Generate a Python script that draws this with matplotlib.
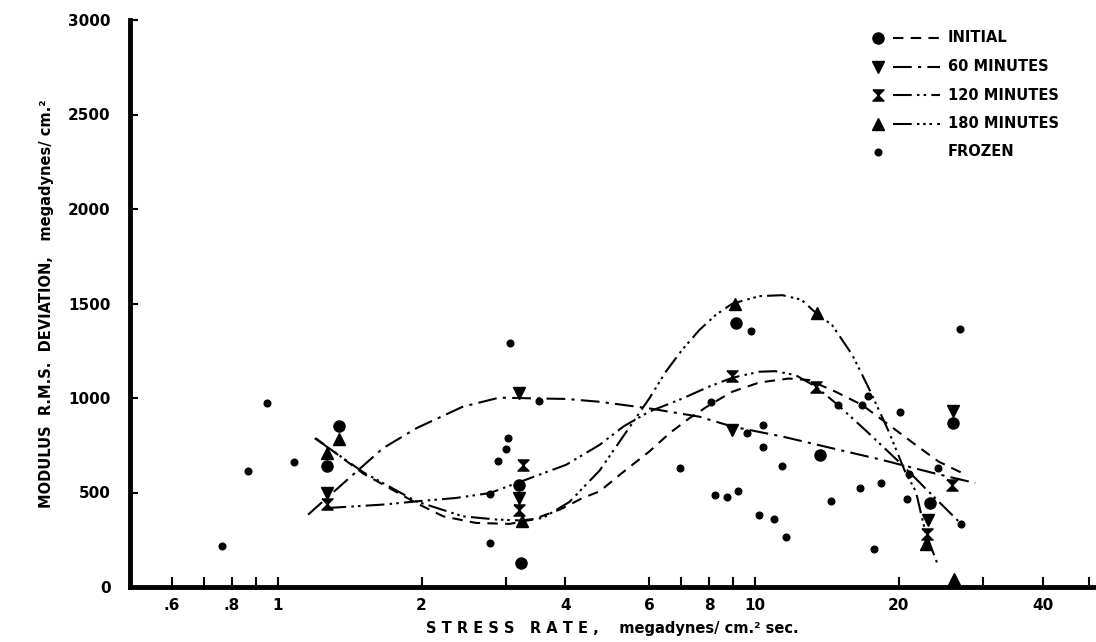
import numpy as np
import matplotlib
matplotlib.use("Agg")
import matplotlib.pyplot as plt
from matplotlib.ticker import FixedLocator, NullFormatter

# ── data ──
frozen_x = [0.763, 0.867, 0.95, 1.08, 2.78, 2.78, 2.89, 3.0, 3.03, 3.06, 3.53,
            6.95, 8.08, 8.25, 8.71, 9.2, 9.62, 9.8, 10.2, 10.4, 10.4, 10.95, 11.4, 11.6,
            14.4, 14.9, 16.6, 16.75, 17.2, 17.7, 18.3, 20.1, 20.8, 21.0, 24.2, 26.9, 27.0]
frozen_y = [216, 615, 975, 660, 234, 490, 668, 729, 787, 1293, 984,
            629, 977, 489, 474, 510, 813, 1355, 383, 857, 740, 362, 641, 264,
            457, 963, 523, 963, 1012, 202, 550, 928, 466, 600, 629, 1364, 334]

init_x = [1.34, 1.27, 3.2, 3.23, 9.1, 13.7, 23.2, 26.0]
init_y = [850, 640, 541, 128, 1399, 700, 445, 866]
m60_x = [1.27, 3.2, 3.2, 8.95, 23.0, 26.0]
m60_y = [500, 1024, 470, 831, 355, 930]
m120_x = [1.27, 3.27, 3.2, 8.93, 13.4, 22.9, 25.8]
m120_y = [440, 645, 410, 1115, 1060, 280, 540]
m180_x = [1.34, 1.27, 3.25, 9.05, 13.5, 22.8, 26.1]
m180_y = [785, 710, 350, 1499, 1450, 225, 40]

# fitted curves as drawn
c_init_x = [1.2, 1.51, 1.95, 2.22, 2.6, 3.06, 3.42, 3.9, 4.35, 4.72, 5.3, 6.0, 6.61, 7.28, 8.02,
            8.95, 10.2, 11.76, 12.96, 14.74, 16.75, 19.05, 21.68, 24.2, 27.6]
c_init_y = [787, 600, 444, 374, 339, 334, 357, 410, 471, 506, 610, 717, 813, 893, 963,
            1033, 1082, 1103, 1095, 1033, 963, 858, 752, 664, 594]
c60_x = [1.157, 1.41, 1.66, 1.95, 2.44, 2.91, 3.42, 4.02, 4.72, 6.0, 7.64, 8.95,
         11.4, 14.5, 18.4, 23.6, 28.9]
c60_y = [383, 576, 734, 840, 954, 1002, 998, 995, 980, 945, 901, 849,
         796, 734, 673, 603, 550]
c120_x = [1.27, 1.66, 1.95, 2.36, 2.78, 3.31, 4.02, 4.72, 5.3, 6.0, 7.05, 8.0, 8.95, 10.2,
          11.0, 12.15, 13.4, 14.9, 17.3, 20.3, 22.7, 27.1]
c120_y = [418, 436, 453, 471, 497, 568, 647, 752, 850, 928, 998, 1060, 1107, 1139,
          1142, 1121, 1060, 963, 813, 647, 523, 330]
c180_x = [1.195, 1.51, 1.95, 2.44, 2.87, 3.23, 3.59, 4.08, 4.72, 5.3, 6.0, 6.5, 7.03, 7.64,
          8.27, 8.95, 10.2, 11.4, 12.5, 13.4, 14.5, 15.98, 17.3, 19.05, 20.6, 21.7, 22.7, 24.1]
c180_y = [787, 607, 453, 374, 357, 352, 365, 450, 616, 800, 998, 1140, 1255, 1360,
          1440, 1499, 1539, 1544, 1520, 1450, 1385, 1227, 1051, 822, 611, 506, 295, 120]

x_ticks = [0.6, 0.8, 1, 2, 4, 6, 8, 10, 20, 40]
x_labels = [".6", ".8", "1", "2", "4", "6", "8", "10", "20", "40"]
x_minor = [0.7, 0.9, 3, 7, 9, 30, 50]
y_ticks = [0, 500, 1000, 1500, 2000, 2500, 3000]

legend_labels = ["INITIAL", "60 MINUTES", "120 MINUTES", "180 MINUTES", "FROZEN"]

# ── styles ──
K = "black"
hourglass = [(-1, 1), (1, 1), (-1, -1), (1, -1), (-1, 1)]
ls_init = (0, (5, 3.5))
ls_60 = (0, (9, 3, 1.5, 3))
ls_120 = (0, (9, 2.5, 1.2, 2, 1.2, 2.5))
ls_180 = (0, (9, 2.5, 1.2, 1.8, 1.2, 1.8, 1.2, 2.5))

plt.rcParams["font.family"] = ["DejaVu Sans"]
plt.rcParams["font.weight"] = "bold"
plt.rcParams["axes.labelweight"] = "bold"

fig = plt.figure(figsize=(10.96, 6.42), dpi=100)
ax = fig.add_axes([130 / 1096, 1 - 587 / 642, 965 / 1096, 567 / 642])

lw = 1.5
ax.plot(c_init_x, c_init_y, color=K, lw=lw, ls=ls_init)
ax.plot(c60_x, c60_y, color=K, lw=lw, ls=ls_60)
ax.plot(c120_x, c120_y, color=K, lw=lw, ls=ls_120)
ax.plot(c180_x, c180_y, color=K, lw=lw, ls=ls_180)

ax.plot(frozen_x, frozen_y, "o", color=K, ms=4.8, ls="none")
ax.plot(init_x, init_y, "o", color=K, ms=8, ls="none")
ax.plot(m60_x, m60_y, "v", color=K, ms=8, ls="none")
ax.plot(m120_x, m120_y, marker=hourglass, color=K, ms=8, ls="none")
ax.plot(m180_x, m180_y, "^", color=K, ms=8, ls="none")

ax.set_xscale("log")
ax.set_xlim(0.49, 51.5)
ax.set_ylim(0, 3000)
ax.xaxis.set_major_locator(FixedLocator(x_ticks))
ax.set_xticklabels(x_labels)
ax.xaxis.set_minor_locator(FixedLocator(x_minor))
ax.xaxis.set_minor_formatter(NullFormatter())
ax.set_yticks(y_ticks)

for s in ["top", "right"]:
    ax.spines[s].set_visible(False)
for s in ["left", "bottom"]:
    ax.spines[s].set_linewidth(3.5)
ax.tick_params(axis="both", which="both", direction="in", width=1.5, labelsize=11)
ax.tick_params(axis="x", which="major", length=7, pad=8)
ax.tick_params(axis="x", which="minor", length=7)
ax.tick_params(axis="y", length=6, pad=14)

ax.set_xlabel("S T R E S S   R A T E ,    megadynes/ cm.² sec.", fontsize=10.5, labelpad=6)
ax.set_ylabel("MODULUS  R.M.S.  DEVIATION,   megadynes/ cm.²", fontsize=10.5, labelpad=10)

# ── legend, drawn by hand ──
tr = fig.transFigure
rows = [38, 66.5, 95, 123.5, 152]
mk = ["o", "v", hourglass, "^", "o"]
styles = [ls_init, ls_60, ls_120, ls_180, None]
for r, m, st, lab in zip(rows, mk, styles, legend_labels):
    yy = 1 - r / 642
    ms = 4.8 if lab == "FROZEN" else 8
    fig.lines.append(plt.Line2D([878 / 1096], [yy], marker=m, ms=ms, color=K, ls="none", transform=tr))
    if st is not None:
        fig.lines.append(plt.Line2D([893 / 1096, 940 / 1096], [yy, yy], color=K, lw=1.5, ls=st, transform=tr))
    fig.text(948 / 1096, yy, lab, fontsize=10.5, va="center", ha="left")

fig.savefig("out.png", dpi=100)
